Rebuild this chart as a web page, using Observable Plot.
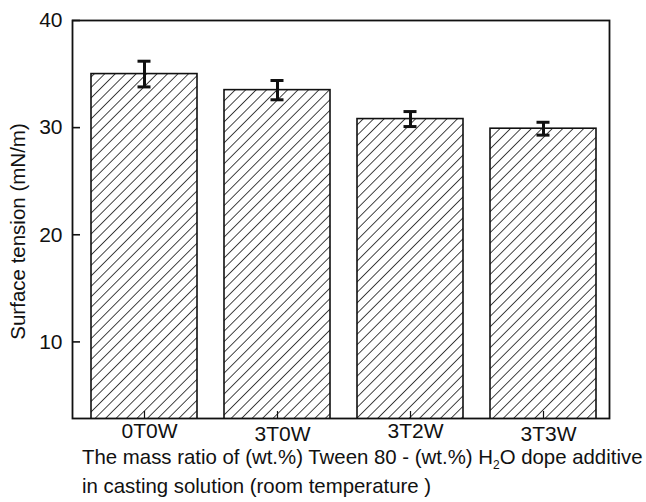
<!DOCTYPE html>
<html>
<head>
<meta charset="utf-8">
<script src="https://cdn.jsdelivr.net/npm/d3@7"></script>
<script src="https://cdn.jsdelivr.net/npm/@observablehq/plot@0.6"></script>
<style>
  html, body { margin: 0; padding: 0; background: #fff; }
  #wrap { position: relative; width: 646px; height: 502px; overflow: hidden; }
  #caption {
    position: absolute; left: 82px; top: 443px;
    font-family: "Liberation Sans", Arial, sans-serif; font-size: 20.4px;
    line-height: 29px; color: #111; white-space: nowrap;
  }
  #caption .sub { font-size: 12px; vertical-align: -5px; line-height: 0; }
</style>
</head>
<body>
<div id="wrap">
  <div id="chart"></div>
  <div id="caption">The mass ratio of (wt.%) Tween 80 - (wt.%) H<span class="sub">2</span>O dope additive<br>in casting solution (room temperature )</div>
</div>
<script>
// Surface tension of casting solutions by additive ratio
const categories = ["0T0W", "3T0W", "3T2W", "3T3W"];
const tension = [35.0, 33.5, 30.8, 29.9];   // mN/m
const errors = [1.2, 0.9, 0.7, 0.6];        // ± mN/m
const yTicks = [10, 20, 30, 40];

const rows = categories.map((c, i) => ({c, v: tension[i], e: errors[i], i}));

const ink = "#111";

const chart = Plot.plot({
  width: 646,
  height: 450,
  marginLeft: 72,
  marginRight: 37,
  marginTop: 20,
  marginBottom: 32,
  style: {fontFamily: "'Liberation Sans', Arial, sans-serif", fontSize: "21px", color: ink, background: "white"},
  x: {domain: categories, paddingInner: 0.2, paddingOuter: 0.1125, align: 0.6},
  y: {domain: [2.85, 40]},
  marks: [
    Plot.barY(rows, {x: "c", y: "v", fill: "url(#hatch)", stroke: ink, strokeWidth: 1.6, clip: true}),
    Plot.ruleX(rows, {x: "c", y1: d => d.v - d.e, y2: d => d.v + d.e, stroke: ink, strokeWidth: 3}),
    Plot.tickY(rows, {x: "c", y: d => d.v + d.e, inset: 46.5, stroke: ink, strokeWidth: 3}),
    Plot.tickY(rows, {x: "c", y: d => d.v - d.e, inset: 46.5, stroke: ink, strokeWidth: 3}),
    Plot.frame({stroke: ink, strokeWidth: 1.8}),
    // inward ticks
    Plot.axisY({ticks: yTicks, tickSize: -8, fill: "none", label: null, strokeWidth: 1.6}),
    Plot.axisY({ticks: yTicks, tickSize: 0, tickPadding: 10, label: null, fill: ink}),
    Plot.axisX({tickSize: -7, fill: "none", label: null, strokeWidth: 1.2}),
    // category labels, alternately staggered
    Plot.text(rows.filter(d => d.i % 2 === 0), {x: "c", text: "c", frameAnchor: "bottom", lineAnchor: "top", dy: 5, dx: 5, fill: ink}),
    Plot.text(rows.filter(d => d.i % 2 === 1), {x: "c", text: "c", frameAnchor: "bottom", lineAnchor: "top", dy: 8, dx: 5, fill: ink}),
    Plot.text(["Surface tension (mN/m)"], {frameAnchor: "left", textAnchor: "middle", lineAnchor: "middle", rotate: -90, dx: -54, dy: 12, fill: ink, fontSize: 20.5})
  ]
});

// diagonal hatch used as bar fill
const ns = "http://www.w3.org/2000/svg";
const defs = document.createElementNS(ns, "defs");
const pat = document.createElementNS(ns, "pattern");
pat.setAttribute("id", "hatch");
pat.setAttribute("patternUnits", "userSpaceOnUse");
pat.setAttribute("width", "7.4");
pat.setAttribute("height", "7.4");
pat.setAttribute("patternTransform", "rotate(45)");
const bg = document.createElementNS(ns, "rect");
bg.setAttribute("width", "7.4");
bg.setAttribute("height", "7.4");
bg.setAttribute("fill", "white");
const line = document.createElementNS(ns, "line");
line.setAttribute("x1", "0"); line.setAttribute("y1", "-1");
line.setAttribute("x2", "0"); line.setAttribute("y2", "8.4");
line.setAttribute("stroke", "#000");
line.setAttribute("stroke-width", "1.45");
pat.appendChild(bg);
pat.appendChild(line);
defs.appendChild(pat);
chart.insertBefore(defs, chart.firstChild);

document.getElementById("chart").appendChild(chart);
</script>
</body>
</html>
